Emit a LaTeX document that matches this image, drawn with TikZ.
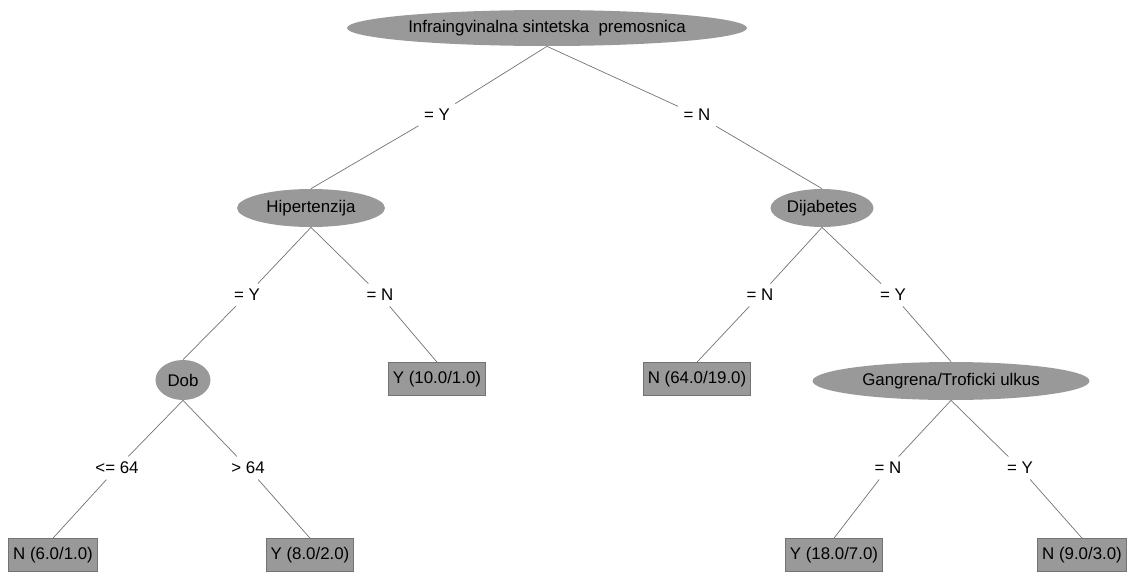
\documentclass[tikz,border=0pt]{standalone}
\usepackage{fontspec}
\setmainfont{Liberation Sans}
\usetikzlibrary{shapes.geometric}
\definecolor{nodegray}{RGB}{153,153,153}
\definecolor{linegray}{RGB}{115,115,115}

\begin{document}
\begin{tikzpicture}[x=0.02cm,y=-0.02cm,
	tree_text/.style={font=\fontsize{9.6}{11.5}\selectfont},
	split_node/.style={ellipse,fill=nodegray,inner sep=0pt,tree_text},
	leaf_node/.style={rectangle,fill=nodegray,draw=linegray,inner xsep=2.5pt,inner ysep=2pt,minimum height=0.66cm,tree_text},
	edge_label/.style={inner sep=3pt,tree_text}]
	    \useasboundingbox (0,0) rectangle (1129,572);
	    
	    \node[split_node,minimum width=8cm,minimum height=0.72cm] (1) at (547,28) {Infraingvinalna sintetska \ premosnica};
	    \node[split_node,minimum width=2.96cm,minimum height=0.76cm] (2) at (311,208) {Hipertenzija};
	    \node[split_node,minimum width=2.06cm,minimum height=0.76cm] (3) at (822,208) {Dijabetes};
	    \node[split_node,minimum width=1.1cm,minimum height=0.8cm] (4) at (183,380) {Dob};
	    \node[leaf_node] (5) at (437,379) {Y (10.0/1.0)};
	    \node[leaf_node] (6) at (697,379) {N (64.0/19.0)};
	    \node[split_node,minimum width=5.54cm,minimum height=0.76cm] (7) at (951,381) {Gangrena/Troficki ulkus};
	    \node[leaf_node] (8) at (53,555) {N (6.0/1.0)};
	    \node[leaf_node] (9) at (310,555) {Y (8.0/2.0)};
	    \node[leaf_node] (10) at (834,555) {Y (18.0/7.0)};
	    \node[leaf_node] (11) at (1082,555) {N (9.0/3.0)};
	    
	    \node[edge_label] (e1) at (437,115) {= Y};
	    \node[edge_label] (e2) at (697,115) {= N};
	    \node[edge_label] (e3) at (247,295) {= Y};
	    \node[edge_label] (e4) at (380,295) {= N};
	    \node[edge_label] (e5) at (760,295) {= N};
	    \node[edge_label] (e6) at (893,295) {= Y};
	    \node[edge_label] (e7) at (117,468) {<= 64};
	    \node[edge_label] (e8) at (248,468) {> 64};
	    \node[edge_label] (e9) at (888,468) {= N};
	    \node[edge_label] (e10) at (1020,468) {= Y};
	    
	    \draw[linegray] (1.south) -- (e1) -- (2.north);
	    \draw[linegray] (1.south) -- (e2) -- (3.north);
	    \draw[linegray] (2.south) -- (e3) -- (4.north);
	    \draw[linegray] (2.south) -- (e4) -- (5.north);
	    \draw[linegray] (3.south) -- (e5) -- (6.north);
	    \draw[linegray] (3.south) -- (e6) -- (7.north);
	    \draw[linegray] (4.south) -- (e7) -- (8.north);
	    \draw[linegray] (4.south) -- (e8) -- (9.north);
	    \draw[linegray] (7.south) -- (e9) -- (10.north);
	    \draw[linegray] (7.south) -- (e10) -- (11.north);
\end{tikzpicture}
\end{document}
